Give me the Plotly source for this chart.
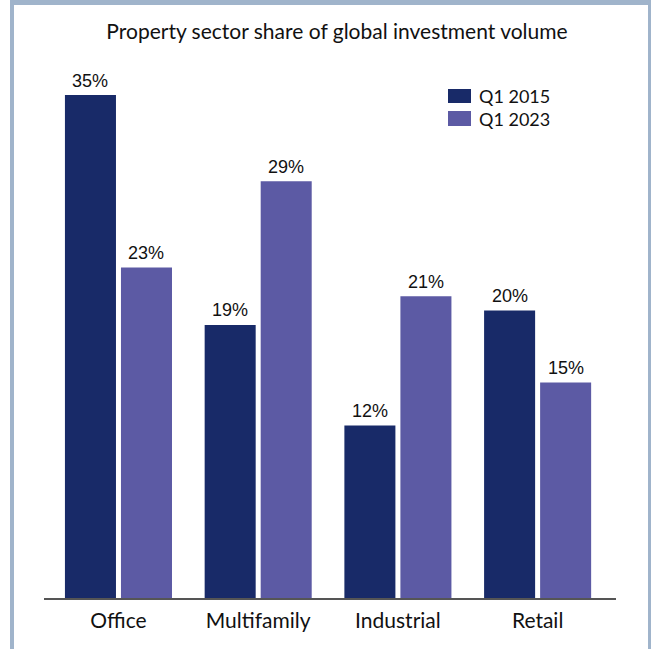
import plotly.graph_objects as go

# Share of global investment volume by property sector (%)
sectors = ["Office", "Multifamily", "Industrial", "Retail"]
share_2015 = [35, 19, 12, 20]
share_2023 = [23, 29, 21, 15]
series_names = ["Q1 2015", "Q1 2023"]
title_text = "Property sector share of global investment volume"

NAVY = "#182a68"
PURPLE = "#5c5aa4"
BORDER = "#a0b4cb"
TEXT = "#111111"

W, H = 651, 649
ML, MR, MT, MB = 44, 35, 61, 51
PW, PH = W - ML - MR, H - MT - MB
BARGAP = 0.198


def px_x(px):
    return (px - ML) / PW


def px_y(py):
    return (H - MB - py) / PH


fig = go.Figure()
for name, vals, color in [(series_names[0], share_2015, NAVY),
                          (series_names[1], share_2023, PURPLE)]:
    fig.add_trace(go.Bar(
        x=sectors, y=vals, name=name,
        marker=dict(color=color, line=dict(width=0)),
        showlegend=False,
    ))

annotations = []
# value labels above each bar, centred on the bar's slot within its group
slot = (1 - BARGAP) / 2
for k, vals in enumerate([share_2015, share_2023]):
    dx = (k - 0.5) * slot
    for i, v in enumerate(vals):
        annotations.append(dict(xref="x", yref="y", x=i + dx, y=v, text=f"{v}%",
                                showarrow=False, xanchor="center", yanchor="bottom",
                                yshift=3.5, borderpad=0,
                                font=dict(family="Liberation Sans, Arial, sans-serif",
                                          size=18, color=TEXT)))

shapes = [
    # frame: top, left and right bands
    dict(type="rect", xref="paper", yref="paper", layer="below",
         x0=px_x(10), x1=px_x(651), y0=px_y(5), y1=px_y(0),
         fillcolor=BORDER, line=dict(width=0)),
    dict(type="rect", xref="paper", yref="paper", layer="below",
         x0=px_x(10), x1=px_x(14), y0=px_y(649), y1=px_y(0),
         fillcolor=BORDER, line=dict(width=0)),
    dict(type="rect", xref="paper", yref="paper", layer="below",
         x0=px_x(648), x1=px_x(651), y0=px_y(649), y1=px_y(0),
         fillcolor=BORDER, line=dict(width=0)),
]

legend_rows = [(89, 103, NAVY, series_names[0]), (111, 126, PURPLE, series_names[1])]
for top, bot, color, label in legend_rows:
    shapes.append(dict(type="rect", xref="paper", yref="paper",
                       x0=px_x(448), x1=px_x(471), y0=px_y(bot), y1=px_y(top),
                       fillcolor=color, line=dict(width=0)))
    annotations.append(dict(xref="paper", yref="paper", x=px_x(477), y=px_y((top + bot) / 2),
                            text=label, showarrow=False, xanchor="left", yanchor="middle",
                            font=dict(family="Lato", size=18, color=TEXT)))

fig.update_layout(
    width=W, height=H,
    margin=dict(l=ML, r=MR, t=MT, b=MB),
    paper_bgcolor="white", plot_bgcolor="white",
    barmode="group", bargap=BARGAP, bargroupgap=0.0893,
    title=dict(text=title_text, x=337 / W, xref="container", xanchor="center",
               y=1 - 32 / H, yref="container", yanchor="middle",
               font=dict(family="Lato", size=21, color=TEXT)),
    xaxis=dict(range=[-0.533, 3.561], showline=True, linecolor="#555555", linewidth=2,
               ticks="", showgrid=False, zeroline=False, ticklabelstandoff=3,
               tickfont=dict(family="Lato", size=21, color=TEXT)),
    yaxis=dict(range=[0, 37.37], visible=False, showgrid=False, zeroline=False),
    shapes=shapes, annotations=annotations,
    font=dict(family="Lato", color=TEXT),
)

fig.write_html("out.html")
